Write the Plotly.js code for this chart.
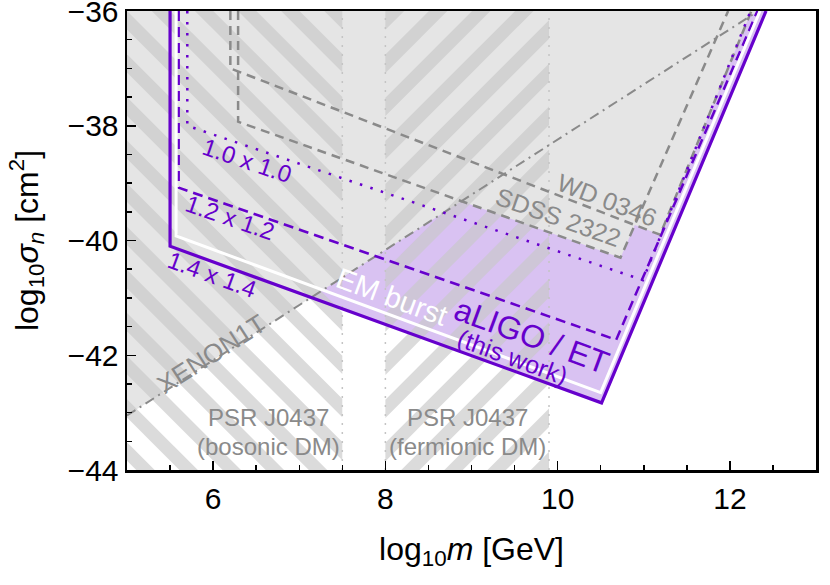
<!DOCTYPE html>
<html><head><meta charset="utf-8">
<script src="https://cdn.plot.ly/plotly-3.0.1.min.js"></script>
<style>html,body{margin:0;padding:0;background:#fff}#chart{width:830px;height:585px}</style>
</head><body><div id="chart"></div>
<script>
// ---------- data: log10 m [GeV] vs log10 sigma_n [cm^2] ----------
const aligo14X = [5.5, 5.5, 10.51, 12.42];
const aligo14Y = [-36, -40.1, -42.83, -36];
const aligo12X = [5.6, 5.6, 10.68, 12.32];
const aligo12Y = [-36, -39.08, -41.73, -36];
const aligo10X = [5.7, 5.7, 10.99, 12.24];
const aligo10Y = [-36, -38.0, -40.69, -36];
const emBurstX = [5.57, 5.57, 10.5, 12.35];
const emBurstY = [-36, -39.92, -42.65, -36];
const xenonX = [5, 12.33];
const xenonY = [-43.05, -36];
const wdX = [6.2, 6.2, 11.19, 12.25];
const wdY = [-36, -37.0, -39.9, -36];
const sdssX = [6.29, 6.29, 10.73, 11.98];
const sdssY = [-36, -37.93, -40.3, -36];
const psrBosonicX = [4.5, 7.5];
const psrFermionicX = [8, 9.9];
const xTickVals = [6, 8, 10, 12];
const yTickVals = [-44, -42, -40, -38, -36];

// labels
const curveLabels = ['1.0 x 1.0', '1.2 x 1.2', '1.4 x 1.4'];
const otherLabels = ['XENON1T', 'EM burst', 'aLIGO / ET', '(this work)', 'WD 0346', 'SDSS 2322'];
const psrLabels = ['PSR J0437', '(bosonic DM)', 'PSR J0437', '(fermionic DM)'];

// ---------- styles ----------
const PURPLE = '#6600cc';
const LAVENDER = '#d9c2f2';
const GRAYFILL = '#e5e5e5';
const GRAYLINE = '#8a8a8a';
const STRIPE = 'rgba(200,200,200,0.65)';
const FONT = 'Liberation Sans, Arial, Helvetica, sans-serif';

const M = {l:127, r:14, t:11, b:115};
const W = 830, H = 585;
const xr = [5, 13], yr = [-44, -36];
const pw = W - M.l - M.r, ph = H - M.t - M.b;
const sx = pw / (xr[1]-xr[0]), sy = ph / (yr[1]-yr[0]);
function toScr(x, y){ return [(x-xr[0])*sx, (yr[1]-y)*sy]; }
function toData(u, v){ return [xr[0]+u/sx, yr[1]-v/sy]; }

function clip(poly, f){
  const out = [];
  const n = poly.length;
  for (let i=0;i<n;i++){
    const cur = poly[i], prev = poly[(i-1+n)%n];
    const fc = f(cur), fp = f(prev);
    const inter = () => { const t = fp/(fp-fc); return [prev[0]+t*(cur[0]-prev[0]), prev[1]+t*(cur[1]-prev[1])]; };
    if (fc >= 0){ if (fp < 0) out.push(inter()); out.push(cur); }
    else if (fp >= 0) out.push(inter());
  }
  return out;
}

function hatch(xa, xb, dirSign, angleDeg, period, width, phase){
  const a = angleDeg*Math.PI/180;
  const nx = -dirSign*Math.sin(a), ny = Math.cos(a);
  const p0 = toScr(xa, yr[1]+0.3), p1 = toScr(xb, yr[0]-0.3);
  const rect = [[p0[0],p0[1]],[p1[0],p0[1]],[p1[0],p1[1]],[p0[0],p1[1]]];
  const pr = p => p[0]*nx + p[1]*ny;
  const ps = rect.map(pr);
  const pmin = Math.min(...ps), pmax = Math.max(...ps);
  const out = [];
  for (let k=Math.floor((pmin-phase)/period)-1; k<=Math.ceil((pmax-phase)/period)+1; k++){
    const lo = phase + k*period, hi = lo + width;
    let poly = clip(rect, p => pr(p) - lo);
    if (poly.length < 3) continue;
    poly = clip(poly, p => hi - pr(p));
    if (poly.length < 3) continue;
    const xs = [], ys = [];
    poly.forEach(p => { const d = toData(p[0], p[1]); xs.push(d[0]); ys.push(d[1]); });
    xs.push(xs[0]); ys.push(ys[0]);
    out.push({type:'scatter', mode:'none', x:xs, y:ys, fill:'toself', fillcolor:STRIPE, hoverinfo:'skip', showlegend:false});
  }
  return out;
}

function region(xs, ys, color){
  return {type:'scatter', mode:'none', x:xs, y:ys, fill:'toself', fillcolor:color, hoverinfo:'skip', showlegend:false};
}
function line(xs, ys, color, width, dash){
  return {type:'scatter', mode:'lines', x:xs, y:ys, line:{color:color, width:width, dash:dash||'solid'}, hoverinfo:'skip', showlegend:false};
}

const traces = [];
traces.push(region(aligo14X, aligo14Y, LAVENDER));
traces.push(region([xenonX[0], xenonX[1], xenonX[0]], [xenonY[0], xenonY[1], yr[1]], GRAYFILL));
traces.push(region(wdX, wdY, GRAYFILL));
traces.push(region(sdssX, sdssY, GRAYFILL));
hatch(psrBosonicX[0], psrBosonicX[1], +1, 45, 30.5, 13, 0).forEach(t => traces.push(t));
hatch(psrFermionicX[0], psrFermionicX[1], -1, 45, 30.5, 13, 0).forEach(t => traces.push(t));
[psrBosonicX[1], psrFermionicX[0], psrFermionicX[1]].forEach(xv => {
  traces.push(line([xv, xv], [yr[0], yr[1]], '#c4c4c4', 1.5, '2px,7px'));
});
traces.push(line(xenonX, xenonY, GRAYLINE, 2, '10px,5px,2px,5px'));
traces.push(line(wdX, wdY, GRAYLINE, 2.5, '9px,6px'));
traces.push(line(sdssX, sdssY, GRAYLINE, 2.5, '9px,6px'));
traces.push(line(aligo10X, aligo10Y, PURPLE, 2.5, '2.5px,8.5px'));
traces.push(line(aligo12X, aligo12Y, PURPLE, 2.5, '10px,6px'));
traces.push(line(emBurstX, emBurstY, '#ffffff', 3));
traces.push(line(aligo14X, aligo14Y, PURPLE, 3.2));

function ann(text, x, y, angle, size, color){
  return {text:text, x:x, y:y, xref:'x', yref:'y', showarrow:false, textangle:angle,
          xanchor:'center', yanchor:'middle', font:{family:FONT, size:size, color:color}};
}
const annotations = [
  ann(curveLabels[0], 6.394, -38.613, 18.7, 24, PURPLE),
  ann(curveLabels[1], 6.196, -39.606, 19, 24, PURPLE),
  ann(curveLabels[2], 5.987, -40.599, 20, 24, PURPLE),
  ann(otherLabels[0], 5.98, -41.98, -32.6, 26, GRAYLINE),
  ann(otherLabels[1], 8.08, -40.98, 20.3, 29, '#ffffff'),
  ann(otherLabels[2], 9.70, -41.66, 20.3, 32, PURPLE),
  ann(otherLabels[3], 9.48, -42.03, 20.3, 25, PURPLE),
  ann(otherLabels[4], 10.575, -39.29, 21.2, 25, GRAYLINE),
  ann(otherLabels[5], 10.006, -39.59, 19.6, 25, GRAYLINE),
  ann(psrLabels[0], 6.638, -43.09, 0, 24, GRAYLINE),
  ann(psrLabels[1], 6.638, -43.596, 0, 24, GRAYLINE),
  ann(psrLabels[2], 8.949, -43.09, 0, 24, GRAYLINE),
  ann(psrLabels[3], 8.949, -43.596, 0, 24, GRAYLINE)
];

const axisCommon = {
  showline:true, linecolor:'#000', linewidth:2.5, mirror:true,
  showgrid:false, zeroline:false, ticks:'inside', ticklen:9, tickwidth:1.5, tickcolor:'#000',
  ticklabeloverflow:'allow',
  tickfont:{family:FONT, size:30, color:'#000'}
};
const layout = {
  width:W, height:H, margin:M, paper_bgcolor:'#fff', plot_bgcolor:'#fff', showlegend:false,
  font:{family:FONT, color:'#000'},
  xaxis: Object.assign({}, axisCommon, {
    range:xr, tickmode:'array', tickvals:xTickVals,
    minor:{tickmode:'linear', tick0:5, dtick:0.5, ticks:'inside', ticklen:5, tickwidth:1.5, tickcolor:'#000', showgrid:false},
    title:{text:'log<sub>10</sub><i>m</i> [GeV]', font:{family:FONT, size:32, color:'#000'}, standoff:24}
  }),
  yaxis: Object.assign({}, axisCommon, {
    range:yr, tickmode:'array', tickvals:yTickVals,
    minor:{tickmode:'linear', tick0:-44, dtick:0.5, ticks:'inside', ticklen:5, tickwidth:1.5, tickcolor:'#000', showgrid:false},
    title:{text:'log<sub>10</sub><i>σ<sub>n</sub></i> [cm<sup>2</sup>]', font:{family:FONT, size:32, color:'#000'}, standoff:20}
  }),
  annotations: annotations
};
Plotly.newPlot('chart', traces, layout, {displayModeBar:false, staticPlot:true});
</script>
</body></html>
